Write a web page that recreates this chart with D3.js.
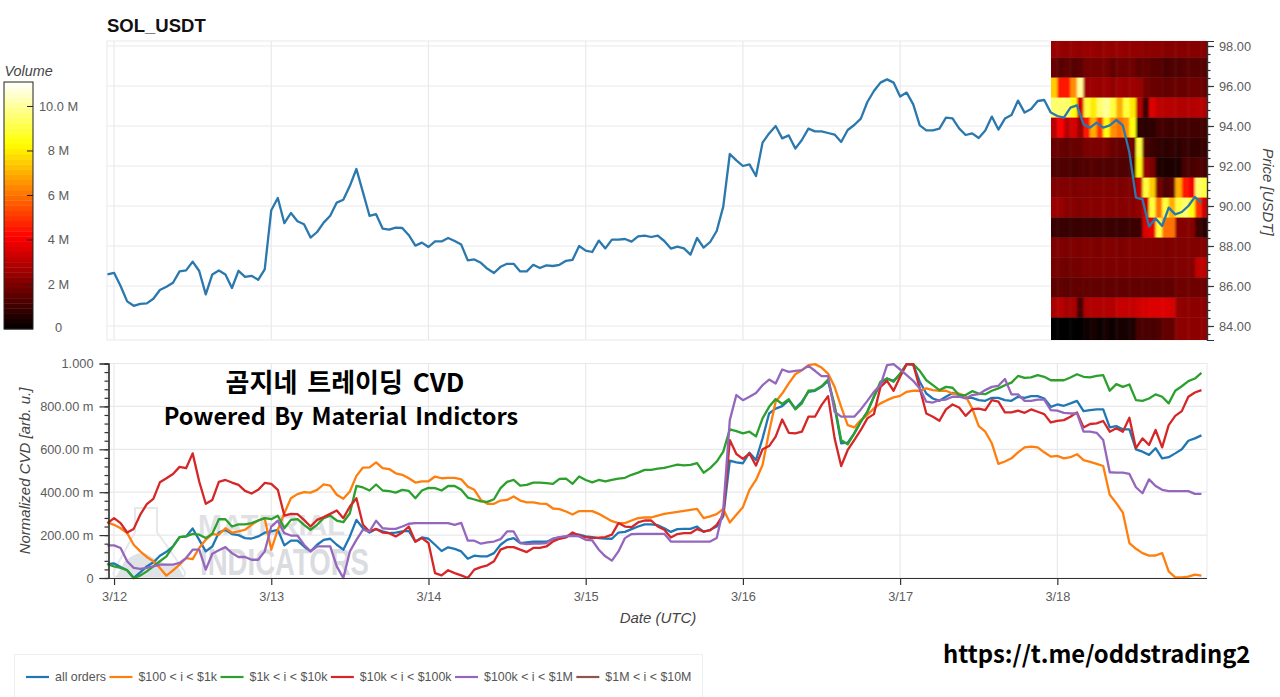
<!DOCTYPE html>
<html><head><meta charset="utf-8">
<script src="https://cdn.jsdelivr.net/npm/d3@7/dist/d3.min.js"></script>
<style>
html,body{margin:0;padding:0;background:#fff;overflow:hidden}
svg{display:block}
</style></head><body>
<svg id="c" width="1280" height="697" font-family="Liberation Sans, Arial, sans-serif"></svg>
<script>
const chartTitle="SOL_USDT";
const legendLabels=["all orders","$100 < i < $1k","$1k < i < $10k","$10k < i < $100k","$100k < i < $1M","$1M < i < $10M"];
const seriesColors=["#1f77b4","#ff7f0e","#2ca02c","#d62728","#9467bd","#8c564b"];
const priceTicks=[84,86,88,90,92,94,96,98];
const cvdTicks=[0,200,400,600,800,1000];
const cvdTickLabels=["0","200.00 m","400.00 m","600.00 m","800.00 m","1.000"];
const volumeTicks=[0,2,4,6,8,10];
const volumeTickLabels=["0","2 M","4 M","6 M","8 M","10.0 M"];

// hourly close price, starting 3/11 23:00 UTC
const price=[86.58,86.66,86.0,85.23,85.01,85.11,85.13,85.36,85.8,85.96,86.16,86.73,86.78,87.22,86.75,85.58,86.58,86.78,86.58,85.9,86.76,86.46,86.51,86.31,86.83,89.79,90.4,89.14,89.65,89.24,
89.09,88.42,88.7,89.17,89.51,90.17,90.31,91.01,91.85,90.68,89.51,89.59,88.87,88.82,88.92,88.9,88.54,88.02,88.17,87.95,88.23,88.23,88.4,88.25,88.07,87.28,87.33,87.16,86.86,86.65,86.96,87.11,87.11,86.73,86.73,87.06,86.9,87.03,87.0,87.06,87.26,87.31,88.0,87.77,87.7,88.27,87.88,88.32,88.32,88.35,88.22,88.48,88.52,88.45,88.52,88.25,87.87,87.97,
87.88,87.57,88.4,87.92,88.2,88.75,89.97,92.6,92.28,92.0,92.08,91.5,93.17,93.63,94.0,93.38,93.53,92.87,93.3,93.87,93.73,93.73,93.65,93.57,93.2,93.8,94.05,94.37,95.2,95.75,96.17,96.33,96.17,95.47,95.67,95.08,94.03,93.78,93.78,93.87,94.42,94.38,93.88,93.55,93.63,93.4,93.77,94.47,93.82,94.37,94.55,95.27,94.67,94.85,95.25,95.3,94.67,
94.5,94.42,94.92,95.03,94.08,93.92,94.17,93.92,94.03,94.3,94.03,92.67,90.42,90.33,88.97,89.37,89.0,89.92,89.58,89.7,90.0,90.45,90.17];

// normalized CVD in milli-units, same hourly axis
const allOrders=[65,68,51,36,0,26,54,73,104,122,147,191,194,231,178,124,147,212,225,205,200,186,184,194,211,217,225,152,174,174,147,124,155,178,183,155,132,194,271,232,212,228,217,209,212,
217,220,170,189,183,155,126,143,136,124,90,104,101,101,116,155,178,186,163,166,169,169,169,181,189,194,205,202,194,191,186,184,183,212,215,228,240,250,250,246,232,215,228,229,229,240,215,225,240,287,547,539,535,584,550,651,767,790,801,829,790,
822,868,873,891,919,798,628,631,674,729,775,845,907,930,919,950,997,994,915,860,837,826,845,863,853,840,840,829,826,840,840,829,826,845,840,848,848,837,798,809,803,814,826,778,783,786,786,702,708,693,693,600,589,574,605,558,563,581,600,640,651,665];
const band100to1k=[259,248,232,209,155,124,98,78,47,11,36,62,93,88,140,178,205,202,232,212,217,225,248,268,279,132,225,302,372,391,400,398,411,436,431,388,369,403,476,515,516,539,512,508,488,
481,465,445,450,451,473,465,467,467,460,426,411,364,346,346,361,364,380,361,353,353,347,346,324,321,310,296,312,312,312,299,282,265,256,256,268,279,282,282,291,299,304,308,313,318,322,279,287,298,322,259,295,330,411,457,527,682,822,860,907,950,
969,992,997,981,953,891,798,713,702,736,760,791,814,829,842,849,868,873,873,884,876,873,873,860,860,848,791,708,682,628,532,543,558,586,609,612,609,586,566,569,558,563,577,550,541,532,522,388,349,305,163,136,116,104,105,116,31,3,3,6,16,11];
const band1kto10k=[65,54,47,36,0,11,31,54,78,101,147,191,194,206,202,186,206,274,274,240,250,250,256,268,279,274,290,232,271,274,248,225,248,279,291,268,260,302,429,422,408,436,408,405,398,
411,406,372,408,420,419,408,429,429,411,375,366,357,355,367,419,448,457,431,434,445,445,442,439,462,463,439,473,457,446,457,450,457,463,467,481,491,504,504,510,513,521,529,525,527,536,491,512,543,589,693,685,674,682,660,744,798,834,811,834,786,
814,873,876,894,925,806,643,623,674,729,775,845,915,930,915,953,997,997,966,922,899,876,891,887,853,853,871,860,857,873,884,899,911,942,933,935,946,938,922,922,922,935,950,938,935,942,946,873,904,891,902,829,826,837,856,845,814,873,894,918,930,956];
const band10kto100k=[256,279,256,212,229,295,344,369,446,465,485,518,512,581,450,346,364,448,457,445,434,406,394,411,443,439,411,291,299,298,271,240,271,284,299,315,279,333,372,248,217,229,212,209,194,
212,240,169,186,163,23,12,36,23,12,0,39,51,59,78,132,144,144,132,121,140,140,147,170,183,189,212,198,191,186,188,191,202,256,240,237,259,268,268,240,225,189,205,209,209,228,217,222,248,295,643,578,555,581,524,600,615,659,739,677,674,
682,752,752,806,848,651,522,597,643,690,744,764,891,919,873,938,997,997,884,767,752,733,786,809,795,756,787,790,783,829,822,772,772,780,770,786,775,764,725,733,736,752,772,702,718,721,732,682,698,682,747,605,651,620,690,609,713,756,778,845,865,876];
const band100kto1M=[152,152,140,78,47,43,47,54,62,62,62,70,93,132,132,39,113,129,144,116,98,98,85,85,124,240,267,209,198,198,155,124,147,147,147,54,0,124,178,225,217,267,232,229,229,
240,253,256,256,256,256,256,256,248,257,174,174,160,166,170,181,217,217,163,158,160,160,163,184,191,194,197,194,178,175,132,101,81,124,186,205,206,206,206,206,206,170,170,170,170,170,170,170,186,318,736,853,829,845,863,899,925,907,972,961,966,
969,989,966,941,941,775,752,752,752,786,826,868,899,992,997,972,946,919,884,822,818,829,832,845,845,837,853,857,876,891,896,928,856,856,826,826,832,832,783,780,770,767,767,682,682,677,643,493,491,491,485,423,395,460,429,411,405,405,405,405,392,392];
const band1Mto10M=[];

// volume in millions: price bins (top to bottom) by hourly column, last 24 hours
const volumeRows=[
[2.5,2.5,2.4,2.5,2.4,2.5,2.5,2.4,2.5,2.4,2.5,2.4,2.4,2.4,2.3,2.3,2.3,2.2,2.2,2.2,2.2,2.2,2.2,2.2],
[1.7,1.4,1.6,1.4,1.5,1.9,1.9,1.9,1.9,1.6,1.8,1.8,1.8,1.5,1.6,1.4,1.4,1.2,1.3,1.3,1.4,1.4,1.4,1.4],
[7.5,4.5,4.5,6.5,10,2.6,2.6,2.5,2.6,2.4,2.6,2.5,2.6,2.5,1.9,1.7,1.7,1.6,1.7,1.7,1.7,1.8,1.8,1.7],
[9.5,9.5,9.5,8.5,3.5,9,8,9.5,10,9,7,9,8,3,1,3.6,3.1,3.0,3.0,2.9,2.9,2.9,3.0,2.9],
[3,4.2,3,3.5,2.5,4.5,7,5,8.5,6.5,6,6.5,8.5,0.7,0.7,0.7,1.1,1.1,1.0,1.1,1.1,1.1,1.1,1.1],
[1.7,1.7,1.6,1.7,1.7,2.0,2.0,2.0,2.0,1.7,1.7,1.6,1.8,9,1.2,0.9,0.8,0.7,0.8,0.7,0.9,0.8,0.8,0.9],
[1.3,1.3,1.3,1.2,1.3,1.3,1.4,1.3,1.3,1.3,1.3,1.3,1.3,8.5,2.4,2.0,0.5,0.5,0.5,0.5,1.2,1.2,1.3,1.2],
[2.1,2.1,2.1,2.0,2.1,2.1,2.1,2.1,2.1,2.1,2.0,2.1,2.1,3.2,9,7.5,1.9,1.3,1.5,7,4.5,4,9.5,9],
[2.5,2.5,2.2,2.2,2.1,2.2,2.2,2.2,2.2,2.2,2.2,2.2,2.2,2.4,3.3,9,6,9,7,9,9.5,8.5,5,3.4],
[0.9,0.9,0.9,0.9,0.9,1,0.9,1,1,0.9,0.9,0.9,1,1,3.6,3.8,9,6,6,2.2,2.2,2.2,1,0.7],
[2.0,2.1,2.0,2.1,2.0,2.1,2.1,2.0,2.1,2.1,2.0,2.1,2.1,2.1,2.1,2.1,2.1,2.0,2.1,2.1,2.1,2.1,2.1,2.2],
[1.9,1.9,1.8,1.9,1.9,2.0,2.0,2.0,2.0,2.0,2.0,2.0,2.0,2.0,2.0,2.0,2.0,2.0,2.0,2.1,2.1,2.1,3.1,3.1],
[1.5,1.6,1.5,1.6,1.6,1.6,1.6,1.6,1.6,1.6,1.6,1.6,1.6,1.6,1.6,1.6,1.6,1.6,1.6,1.8,1.8,1.8,1.8,1.8],
[2.7,3.0,2.7,2.7,1.1,2.9,2.9,2.9,2.9,2.9,3.2,3.2,3.2,3.4,3.5,3.6,3.6,3.6,3.5,2.4,2.3,2.3,2.3,2.3],
[0.1,0.05,0.05,0.05,0.1,0.2,0.4,0.2,0.3,0.2,0.4,0.3,0.5,1.2,1.2,1.2,1.3,1.6,1.6,2.3,2.3,2.3,2.3,2.4]];
const volumeBinPrices=[97.92,96.92,95.92,94.92,93.92,92.92,91.92,90.92,89.92,88.92,87.92,86.92,85.92,84.92,83.92];
const volumeBins=d3.range(48);

const svg=d3.select("#c");
const start=new Date(Date.UTC(2022,2,11,23));
const hour=i=>d3.utcHour.offset(start,i);
const x=d3.scaleUtc().domain([hour(0),hour(168)]).range([107.5,1208]);
const days=d3.utcDay.range(new Date(Date.UTC(2022,2,12)),new Date(Date.UTC(2022,2,19)));
const yP=d3.scaleLinear().domain([83.3,98.25]).range([340,41]);
const yC=d3.scaleLinear().domain([0,1000]).range([578,363.5]);
const GRID="#e9e9ec";
const L=107,R=1207;

// panels
function panel(top,bottom,y,ticks){
  const g=svg.append("g");
  g.append("rect").attr("x",L).attr("y",top).attr("width",R-L).attr("height",bottom-top)
    .attr("fill","none").attr("stroke",GRID);
  g.selectAll(".h").data(ticks).join("line").attr("x1",L).attr("x2",R)
    .attr("y1",d=>y(d)).attr("y2",d=>y(d)).attr("stroke",GRID).attr("stroke-width",1.2);
  g.selectAll(".v").data(days).join("line").attr("y1",top).attr("y2",bottom)
    .attr("x1",d=>x(d)).attr("x2",d=>x(d)).attr("stroke",GRID).attr("stroke-width",1.2);
}
panel(41,340,yP,priceTicks);
panel(363.5,578,yC,cvdTicks.slice(1));

// heat map
const hot=d3.scaleLinear().domain([0,4.16,8.32,11.1]).range(["#000000","#ff0000","#ffff00","#ffffff"]).clamp(true);
const defs=svg.append("defs");
defs.append("clipPath").attr("id","pc").append("rect").attr("x",1051).attr("y",41).attr("width",R-1051).attr("height",299);
const hb=defs.append("filter").attr("id","hblur").attr("filterUnits","userSpaceOnUse")
  .attr("x",1030).attr("y",20).attr("width",200).attr("height",340);
hb.append("feGaussianBlur").attr("stdDeviation","0.9 0.4");
const hmOuter=svg.append("g").attr("clip-path","url(#pc)");
const hm=hmOuter.append("g").attr("filter","url(#hblur)");
volumeRows.forEach((row,r)=>{
  const p=volumeBinPrices[r];
  const topPad=r===0?5:0, botPad=r===volumeRows.length-1?5:0;
  hm.selectAll(null).data(row).join("rect")
    .attr("x",(d,i)=>x(hour(144+i))-(i===0?5:0))
    .attr("width",(d,i)=>x(hour(145+i))-x(hour(144+i))+0.4+(i===0||i===23?5:0))
    .attr("y",yP(p+0.5)-topPad)
    .attr("height",yP(p-0.5)-yP(p+0.5)+0.3+topPad+botPad)
    .attr("fill",d=>hot(d));
});

// price line
svg.append("path").datum(price).attr("fill","none").attr("stroke","#2a78ad").attr("stroke-width",2.3)
  .attr("stroke-linejoin","round")
  .attr("d",d3.line().x((d,i)=>x(hour(i))).y(d=>yP(d)));

// price axis
const INK="#444";
function styleAxis(g,lw){g.selectAll("path,line").attr("stroke","#333").attr("stroke-width",lw||1.2);
  g.selectAll("text").attr("fill","#5c5c5c").attr("font-size",12.8).attr("font-family","Liberation Sans");}
const minorP=d3.range(83.6,98.01,0.4);
const pMinor=svg.append("g").attr("transform",`translate(${R},0)`).call(d3.axisRight(yP).tickValues(minorP).tickSize(3.5).tickFormat(""));
styleAxis(pMinor);
const pAxis=svg.append("g").attr("transform",`translate(${R},0)`).call(d3.axisRight(yP).tickValues(priceTicks).tickSize(7).tickPadding(5).tickFormat(d3.format(".2f")));
styleAxis(pAxis);
svg.append("text").attr("transform","translate(1263,192) rotate(90)").attr("text-anchor","middle")
  .attr("font-size",15).attr("font-style","italic").attr("fill",INK).text("Price [USDT]");

svg.append("text").attr("x",107).attr("y",32).attr("font-size",18.5).attr("font-weight","bold").attr("fill","#111").text(chartTitle);

// color bar
const yV=d3.scaleLinear().domain([0,11.1]).range([329,82]);
const cb=svg.append("g");
cb.selectAll("rect").data(volumeBins).join("rect").attr("x",4).attr("width",29)
  .attr("y",d=>yV((d+1)*11.1/volumeBins.length)).attr("height",247/volumeBins.length+0.4)
  .attr("fill",d=>hot((d+0.5)*11.1/volumeBins.length));
cb.append("rect").attr("x",4).attr("y",82).attr("width",29).attr("height",247).attr("fill","none").attr("stroke","#222").attr("stroke-width",1);
cb.selectAll("line").data(volumeTicks.slice(1)).join("line").attr("x1",27).attr("x2",33)
  .attr("y1",d=>yV(d)).attr("y2",d=>yV(d)).attr("stroke","#222");
cb.selectAll("text.t").data(volumeTicks).join("text").attr("class","t")
  .attr("x",58.5).attr("text-anchor","middle").attr("font-size",12.8).attr("fill","#5c5c5c")
  .attr("y",d=>d===0?332:yV(d)+4.5).text((d,i)=>volumeTickLabels[i]);
svg.append("text").attr("x",4.5).attr("y",76).attr("font-size",14.4).attr("font-style","italic").attr("fill",INK).text("Volume");

// watermark
const wm=svg.append("g");
wm.append("path").attr("d","M135 508 L157 508 L157 532 L185 572 Q186 577 180 577 L118 577 Q112 577 114 571 L135 532 Z")
  .attr("fill","none").attr("stroke","#e6e8ea").attr("stroke-width",2);
wm.append("path").attr("d","M124 562 Q140 548 150 556 Q163 564 178 566 L184 577 L116 577 Z").attr("fill","#e0e3e6");
wm.append("text").attr("x",198).attr("y",535).attr("font-size",30).attr("font-weight","bold").attr("fill","#dfe1e4")
  .attr("textLength",147).attr("lengthAdjust","spacingAndGlyphs").text("MATERIAL");
wm.append("text").attr("x",200).attr("y",575).attr("font-size",36).attr("font-weight","bold").attr("fill","#dadcdf")
  .attr("textLength",169).attr("lengthAdjust","spacingAndGlyphs").text("INDICATORS");

// CVD lines
const cvdSeries=[allOrders,band100to1k,band1kto10k,band10kto100k,band100kto1M,band1Mto10M];
const lineC=d3.line().x((d,i)=>x(hour(i))).y(d=>yC(d));
svg.append("g").selectAll("path").data(cvdSeries).join("path")
  .attr("fill","none").attr("stroke",(d,i)=>seriesColors[i]).attr("stroke-width",2.3).attr("stroke-linejoin","round")
  .attr("d",d=>d.length?lineC(d):null);

// CVD axes
const cMinor=svg.append("g").attr("transform","translate(108.5,0)").call(d3.axisLeft(yC).tickValues(d3.range(0,1001,40)).tickSize(4).tickFormat(""));
styleAxis(cMinor);
const cAxis=svg.append("g").attr("transform","translate(108.5,0)").call(d3.axisLeft(yC).tickValues(cvdTicks).tickSize(9).tickPadding(6).tickFormat((d,i)=>cvdTickLabels[i]));
styleAxis(cAxis);
const xAxis=svg.append("g").attr("transform","translate(0,578)").call(d3.axisBottom(x).tickValues(days).tickSize(7).tickPadding(7).tickFormat(d3.utcFormat("%-m/%-d")));
styleAxis(xAxis);
xAxis.select(".domain").attr("d",`M${L},0.5H${R}`);
svg.append("text").attr("transform","translate(30,471) rotate(-90)").attr("text-anchor","middle")
  .attr("font-size",15).attr("font-style","italic").attr("fill",INK).text("Normalized CVD [arb. u.]");
svg.append("text").attr("x",658).attr("y",623).attr("text-anchor","middle")
  .attr("font-size",15).attr("font-style","italic").attr("fill",INK).text("Date (UTC)");

// overlays
const KR='"Noto Sans CJK KR","Noto Sans",sans-serif';
svg.append("text").attr("x",345).attr("y",392).attr("text-anchor","middle").attr("font-family",KR)
  .attr("font-size",26).attr("word-spacing",4).attr("font-weight","bold").attr("fill","#000").text("곰지네 트레이딩 CVD");
svg.append("text").attr("x",341).attr("y",425).attr("text-anchor","middle").attr("font-family",KR)
  .attr("font-size",23.5).attr("word-spacing",3).attr("font-weight","bold").attr("fill","#000").text("Powered By Material Indictors");
svg.append("text").attr("x",943).attr("y",663).attr("font-family",KR)
  .attr("font-size",23.8).attr("font-weight","bold").attr("fill","#000").text("https://t.me/oddstrading2");

// legend
const lg=svg.append("g");
lg.append("rect").attr("x",14.5).attr("y",654.5).attr("width",688).attr("height",50).attr("fill","#fff").attr("stroke","#eeeeee");
let lx=26;
legendLabels.forEach((t,i)=>{
  lg.append("line").attr("x1",lx).attr("x2",lx+23).attr("y1",677).attr("y2",677).attr("stroke",seriesColors[i]).attr("stroke-width",2.2);
  const tx=lg.append("text").attr("x",lx+29).attr("y",681).attr("font-size",12.4).attr("fill","#555").text(t);
  lx+=29+tx.node().getComputedTextLength()+3.5;
});
</script>
</body></html>
